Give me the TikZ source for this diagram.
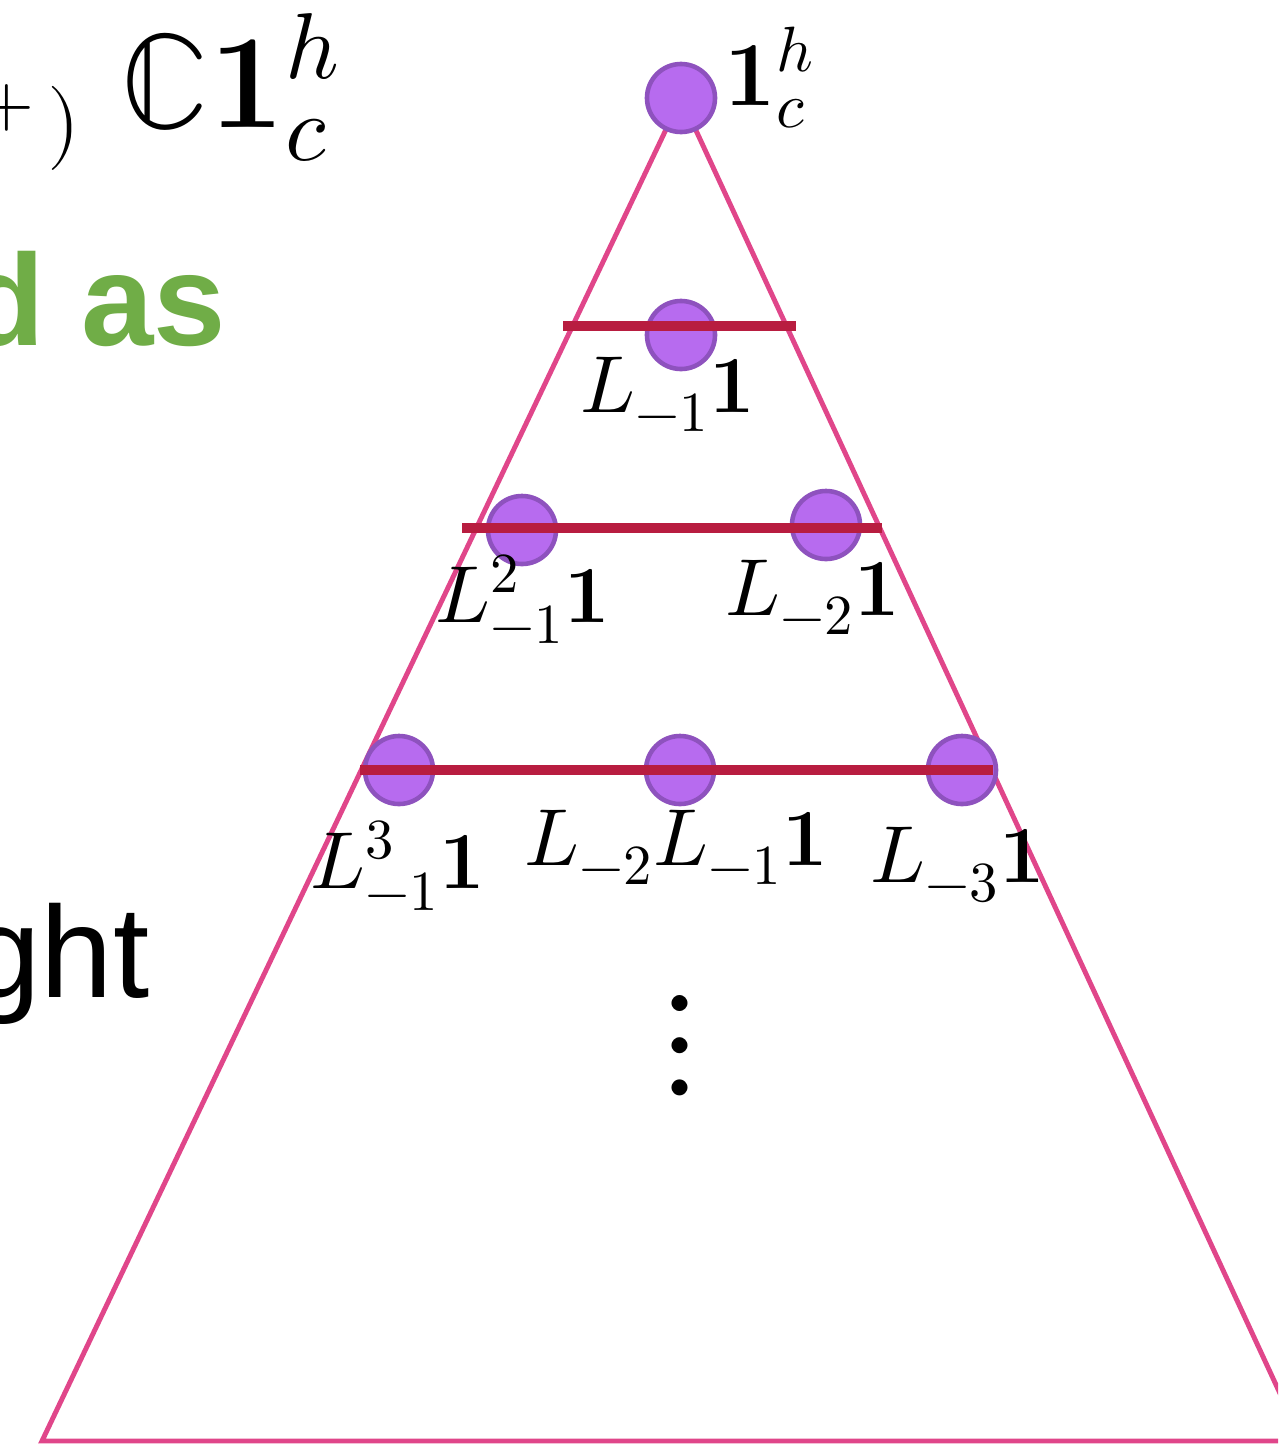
\documentclass[tikz,border=0pt]{standalone}
\usepackage{unicode-math}
\newfontfamily\slidefont{Liberation Sans}
\definecolor{triedge}{HTML}{E0468A}
\definecolor{levelbar}{HTML}{B81D40}
\definecolor{vecfill}{HTML}{B76BEF}
\definecolor{vecline}{HTML}{8E52BE}
\definecolor{slidegreen}{HTML}{70AD47}
\begin{document}
\begin{tikzpicture}[x=0.01cm, y=-0.01cm,
  vec/.style={circle, fill=vecfill, draw=vecline, line width=1.3pt, minimum size=0.68cm, inner sep=0pt},
  lbl/.style={anchor=base, inner sep=0pt, font=\fontsize{23}{28}\selectfont},
  bar/.style={levelbar, line width=3pt},
  edge/.style={triedge, line width=1.4pt}]

% Canvas
\useasboundingbox (0,0) rectangle (1278,1445);
\clip (0,0) rectangle (1278,1445);

% Slide text, cut off at the left
\node[inner sep=0pt, font=\fontsize{20}{24}\selectfont] (plus) at (7,108) {$+$};
\node[inner sep=0pt, anchor=base, font=\fontsize{24}{28}\selectfont] (rpar) at (64,149) {$)$};
\node[inner sep=0pt, anchor=base west, font=\fontsize{38}{44}\selectfont] (module) at (120,127)
  {$\mathbb{C}\mathbf{1}_c^h$};
\node[inner sep=0pt, anchor=base east, text=slidegreen, font=\slidefont\bfseries\fontsize{37}{44}\selectfont] (green) at (227,345) {d as};
\node[inner sep=0pt, anchor=base east, font=\slidefont\fontsize{37}{44}\selectfont] (tail) at (150,997) {ght};

% Triangle
\coordinate (apex) at (681,98);
\coordinate (bl) at (42,1441);
\coordinate (br) at (1302,1441);
\draw[edge] (apex) -- (bl) -- (br) -- cycle;

% Level 0
\node[vec] (v0) at (apex) {};
\node[inner sep=0pt, anchor=base west, font=\fontsize{26}{30}\selectfont] (l0) at (724,105) {$\mathbf{1}_c^h$};

% Level 1
\node[vec] (v1) at (681,335) {};
\coordinate (b1l) at (563,326);
\coordinate (b1r) at (796,326);
\draw[bar] (b1l) -- (b1r);
\node[lbl] (l1) at (668,412) {$L_{-1}\mathbf{1}$};

% Level 2
\node[vec] (v21) at (522,530) {};
\node[vec] (v22) at (826,525) {};
\coordinate (b2l) at (462,528);
\coordinate (b2r) at (882,528);
\draw[bar] (b2l) -- (b2r);
\node[lbl] (l21) at (523,622) {$L_{-1}^2\mathbf{1}$};
\node[lbl] (l22) at (813,615) {$L_{-2}\mathbf{1}$};

% Level 3
\node[vec] (v31) at (399,770) {};
\node[vec] (v32) at (680,770) {};
\node[vec] (v33) at (962,770) {};
\coordinate (b3l) at (360,770);
\coordinate (b3r) at (993,770);
\draw[bar] (b3l) -- (b3r);
\node[lbl] (l31) at (398,888) {$L_{-1}^3\mathbf{1}$};
\node[lbl] (l32) at (676,865) {$L_{-2}L_{-1}\mathbf{1}$};
\node[lbl] (l33) at (958,882) {$L_{-3}\mathbf{1}$};

% More levels
\node[inner sep=0pt, font=\fontsize{43}{48}\selectfont] (more) at (680,1046) {$\vdots$};

\end{tikzpicture}
\end{document}
